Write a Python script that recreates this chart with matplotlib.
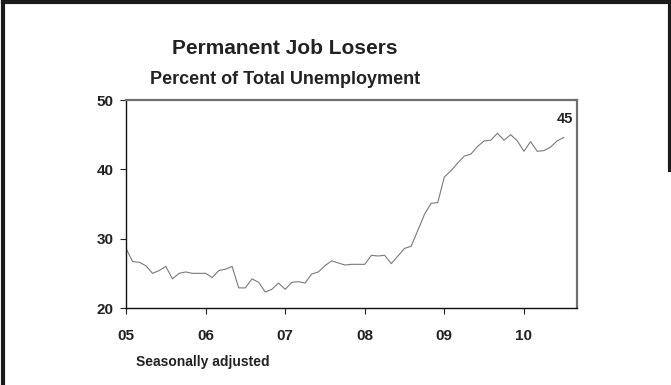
import matplotlib.pyplot as plt
import numpy as np

plt.rcParams['font.family'] = ['Liberation Sans', 'DejaVu Sans']

# Permanent job losers as percent of total unemployment, monthly from Jan 2005
start_year = 2005
losers_pct = [
    28.6, 26.7, 26.6, 26.1, 25.0, 25.4, 26.0, 24.2, 25.0, 25.2, 25.0, 25.0,  # 2005
    25.0, 24.4, 25.4, 25.6, 26.0, 22.9, 22.9, 24.2, 23.7, 22.3, 22.7, 23.6,  # 2006
    22.7, 23.7, 23.8, 23.6, 24.9, 25.2, 26.1, 26.8, 26.5, 26.2, 26.3, 26.3,  # 2007
    26.3, 27.6, 27.5, 27.6, 26.4, 27.5, 28.6, 28.9, 31.2, 33.5, 35.1, 35.2,  # 2008
    38.9, 39.8, 40.9, 41.9, 42.2, 43.3, 44.1, 44.2, 45.2, 44.2, 45.0, 44.1,  # 2009
    42.6, 44.0, 42.6, 42.7, 43.2, 44.1, 44.6,                                # 2010
]
year_ticks = [2005, 2006, 2007, 2008, 2009, 2010]
year_labels = ['05', '06', '07', '08', '09', '10']
y_ticks = [20, 30, 40, 50]

x = start_year + np.arange(len(losers_pct)) / 12

fig = plt.figure(figsize=(6.71, 3.85), dpi=100)
ax = fig.add_axes([126 / 671, 1 - 308 / 385, 451 / 671, 208 / 385])

ax.plot(x, losers_pct, color='#7a7a7a', linewidth=0.8)

ax.set_xlim(start_year, start_year + 68 / 12)
ax.set_ylim(20, 50)
ax.set_xticks(year_ticks)
ax.set_xticklabels(year_labels)
ax.set_yticks(y_ticks)
ax.tick_params(axis='x', direction='out', length=4, width=0.8, pad=11,
               labelsize=11, colors='#222222')
ax.tick_params(axis='y', direction='out', length=4, width=0.8, pad=5,
               labelsize=11, colors='#222222')
for lbl in ax.get_xticklabels() + ax.get_yticklabels():
    lbl.set_fontweight('bold')

for side in ['left', 'bottom']:
    ax.spines[side].set_color('#111111')
    ax.spines[side].set_linewidth(1.0)
for side in ['top', 'right']:
    ax.spines[side].set_color('#6e6e6e')
    ax.spines[side].set_linewidth(1.6)

# latest value label
ax.text(start_year + 67.4 / 12, 47.3, f'{losers_pct[-1]:.0f}', ha='right', va='center',
        fontsize=10.5, fontweight='bold', color='#222222')

fig.text(285 / 671, 1 - 48 / 385, 'Permanent Job Losers', ha='center', va='center',
         fontsize=15, fontweight='bold', color='#222222')
fig.text(285 / 671, 1 - 80 / 385, 'Percent of Total Unemployment', ha='center', va='center',
         fontsize=13, fontweight='bold', color='#222222')
fig.text(136 / 671, 1 - 362 / 385, 'Seasonally adjusted', ha='left', va='center',
         fontsize=10, fontweight='bold', color='#222222')

# slide frame
fig.add_artist(plt.Line2D([3 / 671, 3 / 671], [0, 1 - 1 / 385], transform=fig.transFigure,
                          color='#1a1a1a', linewidth=3))
fig.add_artist(plt.Line2D([3 / 671, 1], [1 - 1.5 / 385, 1 - 1.5 / 385], transform=fig.transFigure,
                          color='#1a1a1a', linewidth=3))
fig.add_artist(plt.Line2D([669.5 / 671, 669.5 / 671], [1 - 170 / 385, 1], transform=fig.transFigure,
                          color='#1a1a1a', linewidth=3))

fig.savefig('out.png', dpi=100)
